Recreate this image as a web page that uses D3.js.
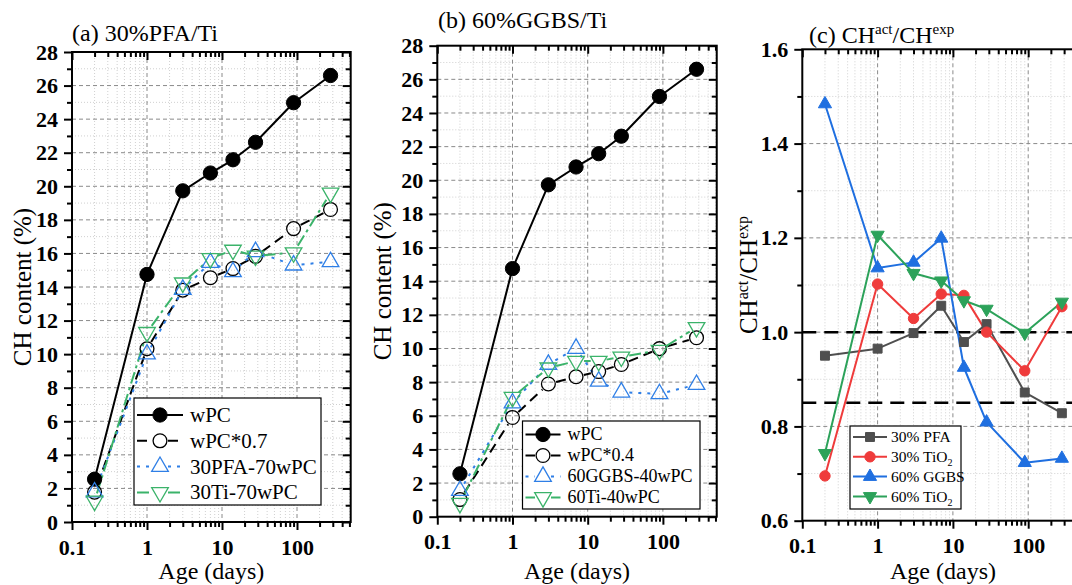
<!DOCTYPE html>
<html><head><meta charset="utf-8">
<script src="https://cdn.jsdelivr.net/npm/d3@7"></script>
<style>body{margin:0;background:#fff}svg{display:block}text{font-family:"Liberation Serif","Times New Roman",serif}</style>
</head><body>
<svg id="c" width="1072" height="585"></svg>
<script>
// ---- data ----
const ages = [0.2, 1, 3, 7, 14, 28, 90, 280];
const wPC = [2.55, 14.75, 19.73, 20.79, 21.58, 22.62, 24.98, 26.6];
const wPC07 = [1.78, 10.32, 13.81, 14.55, 15.1, 15.83, 17.48, 18.62];
const pfa30 = [1.78, 10.0, 13.85, 15.45, 14.9, 16.1, 15.3, 15.5];
const ti30 = [1.25, 11.3, 14.25, 15.7, 16.2, 15.85, 16.05, 19.6];
const wPC04 = [1.02, 5.9, 7.89, 8.32, 8.63, 9.05, 9.99, 10.64];
const ggbs60 = [1.55, 6.75, 9.05, 10.0, 8.05, 7.4, 7.3, 7.85];
const ti60 = [0.8, 7.1, 8.85, 9.25, 9.25, 9.5, 9.9, 11.25];
const ratioPFA30 = [0.95, 0.965, 0.998, 1.056, 0.979, 1.017, 0.872, 0.828];
const ratioTi30 = [0.695, 1.102, 1.029, 1.081, 1.078, 1.0, 0.918, 1.054];
const ratioGGBS60 = [1.484, 1.136, 1.148, 1.199, 0.925, 0.809, 0.723, 0.732];
const ratioTi60 = [0.743, 1.206, 1.125, 1.109, 1.067, 1.049, 0.998, 1.064];
const refLines = [1.0, 0.85];
const xTickLabels = [0.1, 1, 10, 100];
const yTicksCH = d3.range(0, 29, 2);
const yTicksRatio = [0.6, 0.8, 1.0, 1.2, 1.4, 1.6];

const svg = d3.select("#c");
const XMAX = 520;

function drawPanel(cfg) {
  const g = svg.append("g");
  const x = d3.scaleLog().domain([0.1, XMAX]).range([cfg.left, cfg.left + cfg.decade * Math.log10(XMAX / 0.1)]);
  const y = d3.scaleLinear().domain(cfg.ydom).range([cfg.bottom, cfg.top]);
  const [x0, x1] = x.range();
  const minorX = [];
  [0.1, 1, 10, 100].forEach(d => { for (let k = 2; k <= 9; k++) if (k * d < XMAX) minorX.push(k * d); });
  const minorY = cfg.yminor;
  // minor grid
  g.selectAll(null).data(minorX).join("line")
    .attr("x1", d => x(d)).attr("x2", d => x(d)).attr("y1", cfg.top).attr("y2", cfg.bottom)
    .attr("stroke", "#d0d0d0").attr("stroke-width", 1).attr("stroke-dasharray", "1,2");
  g.selectAll(null).data(minorY).join("line")
    .attr("x1", x0).attr("x2", x1).attr("y1", d => y(d)).attr("y2", d => y(d))
    .attr("stroke", "#d0d0d0").attr("stroke-width", 1).attr("stroke-dasharray", "1,2");
  // major grid
  g.selectAll(null).data([1, 10, 100]).join("line")
    .attr("x1", d => x(d)).attr("x2", d => x(d)).attr("y1", cfg.top).attr("y2", cfg.bottom)
    .attr("stroke", "#8a8a8a").attr("stroke-width", 1).attr("stroke-dasharray", "4,3");
  g.selectAll(null).data(cfg.yticks.slice(1, -1)).join("line")
    .attr("x1", x0).attr("x2", x1).attr("y1", d => y(d)).attr("y2", d => y(d))
    .attr("stroke", "#8a8a8a").attr("stroke-width", 1).attr("stroke-dasharray", "4,3");

  // axes
  const bottomAx = d3.axisBottom(x).tickValues(xTickLabels).tickFormat(d => d).tickSize(8).tickSizeOuter(0);
  const bottomMinor = d3.axisBottom(x).tickValues(minorX).tickFormat("").tickSize(5).tickSizeOuter(0);
  const topAx = d3.axisBottom(x).tickValues(xTickLabels).tickFormat("").tickSize(8).tickSizeOuter(0);
  const topMinor = d3.axisBottom(x).tickValues(minorX).tickFormat("").tickSize(5).tickSizeOuter(0);
  const leftAx = d3.axisLeft(y).tickValues(cfg.yticks).tickFormat(cfg.fmt).tickSize(8).tickPadding(6).tickSizeOuter(0);
  const leftMinor = d3.axisLeft(y).tickValues(minorY).tickFormat("").tickSize(5).tickSizeOuter(0);
  const rightAx = d3.axisLeft(y).tickValues(cfg.yticks).tickFormat("").tickSize(8).tickSizeOuter(0);
  const rightMinor = d3.axisLeft(y).tickValues(minorY).tickFormat("").tickSize(5).tickSizeOuter(0);
  const style = sel => { sel.selectAll(".domain").remove(); sel.selectAll(".tick line").attr("stroke", "#000").attr("stroke-width", 2); };
  g.append("g").attr("transform", `translate(0,${cfg.bottom})`).call(bottomMinor).call(style);
  const bx = g.append("g").attr("transform", `translate(0,${cfg.bottom})`).call(bottomAx).call(style);
  bx.selectAll("text").attr("font-size", 22).attr("font-weight", "bold").attr("fill", "#000").attr("dy", "0.98em");
  g.append("g").attr("transform", `translate(0,${cfg.top})`).call(topMinor).call(style);
  g.append("g").attr("transform", `translate(0,${cfg.top})`).call(topAx).call(style);
  g.append("g").attr("transform", `translate(${x0},0)`).call(leftMinor).call(style);
  const ly = g.append("g").attr("transform", `translate(${x0},0)`).call(leftAx).call(style);
  ly.selectAll("text").attr("font-size", 22).attr("font-weight", "bold").attr("fill", "#000");
  g.append("g").attr("transform", `translate(${x1},0)`).call(rightMinor).call(style);
  g.append("g").attr("transform", `translate(${x1},0)`).call(rightAx).call(style);
  g.append("rect").attr("x", x0).attr("y", cfg.top).attr("width", x1 - x0).attr("height", cfg.bottom - cfg.top)
    .attr("fill", "none").attr("stroke", "#000").attr("stroke-width", 2);

  // reference lines
  (cfg.refs || []).forEach(v => {
    g.append("line").attr("x1", x0).attr("x2", x1).attr("y1", y(v)).attr("y2", y(v))
      .attr("stroke", "#000").attr("stroke-width", 2.5).attr("stroke-dasharray", "14,8");
  });

  // series
  cfg.series.forEach(s => {
    const pts = ages.map((a, i) => [x(a), y(s.values[i])]);
    let d = "";
    const gap = s.open ? s.r + 1 : 0;
    for (let i = 0; i < pts.length - 1; i++) {
      const [ax, ay] = pts[i], [bx2, by] = pts[i + 1];
      const L = Math.hypot(bx2 - ax, by - ay);
      if (L <= 2 * gap) continue;
      const ux = (bx2 - ax) / L, uy = (by - ay) / L;
      d += `M${ax + ux * gap},${ay + uy * gap}L${bx2 - ux * gap},${by - uy * gap}`;
    }
    g.append("path").attr("d", d).attr("fill", "none").attr("stroke", s.color)
      .attr("stroke-width", s.lw || 2).attr("stroke-dasharray", s.dash || null);
  });
  cfg.series.forEach(s => {
    const sym = d3.symbol().type(s.shape).size(s.size);
    g.selectAll(null).data(ages.map((a, i) => [x(a), y(s.values[i])])).join("path")
      .attr("d", sym)
      .attr("transform", d => `translate(${d[0]},${d[1]})` + (s.down ? " rotate(180)" : ""))
      .attr("fill", s.open ? "none" : s.color).attr("stroke", s.color).attr("stroke-width", s.open ? 1.3 : 1);
  });

  // title
  const t = svg.append("text").attr("x", cfg.titleX).attr("y", cfg.titleY).attr("font-size", 24).attr("fill", "#000");
  cfg.title.forEach(p => t.append("tspan").attr("font-size", p.sup ? 15 : 24).attr("dy", p.dy || 0).text(p.t));
  // y label
  const yl = svg.append("text").attr("transform", `translate(${cfg.ylabelX},${cfg.ylabelY || (cfg.top + cfg.bottom) / 2}) rotate(-90)`)
    .attr("text-anchor", "middle").attr("font-size", 25).attr("fill", "#000");
  cfg.ylabel.forEach(p => yl.append("tspan").attr("font-size", p.sup ? 16 : 25).attr("dy", p.dy || 0).text(p.t));
  // x label
  svg.append("text").attr("x", cfg.xlabelX || (x0 + x1) / 2).attr("y", 579).attr("text-anchor", "middle")
    .attr("font-size", 24).attr("fill", "#000").text("Age (days)");

  // legend
  const L = cfg.legend;
  g.append("rect").attr("x", L.x).attr("y", L.y).attr("width", L.w).attr("height", L.h)
    .attr("fill", "#fff").attr("stroke", "#000").attr("stroke-width", 1.2);
  cfg.series.forEach((s, i) => {
    const ry = L.y + L.first + i * L.step;
    const lx0 = L.x + 3, lx1 = L.x + L.sample;
    const mx = (lx0 + lx1) / 2, gap = s.open ? s.r + 1 : 0;
    g.append("path").attr("d", `M${lx0},${ry}L${mx - gap},${ry}M${mx + gap},${ry}L${lx1},${ry}`)
      .attr("stroke", s.color).attr("stroke-width", s.lw || 2).attr("stroke-dasharray", s.dash || null);
    g.append("path").attr("d", d3.symbol().type(s.shape).size(s.size))
      .attr("transform", `translate(${mx},${ry})` + (s.down ? " rotate(180)" : ""))
      .attr("fill", s.open ? "#fff" : s.color).attr("stroke", s.color).attr("stroke-width", s.open ? 1.3 : 1);
    const tx = g.append("text").attr("x", L.x + L.sample + L.tpad).attr("y", ry + L.fs * 0.33)
      .attr("font-size", L.fs).attr("fill", "#000");
    s.label.forEach(p => tx.append("tspan").attr("font-size", p.sub ? L.fs * 0.65 : L.fs).attr("dy", p.dy || 0).text(p.t));
  });
}

const blk = "#000", blu = "#2f7fe6", grn = "#3bb36a";
drawPanel({
  left: 72, top: 52, bottom: 522, decade: 75, ydom: [0, 28], yticks: yTicksCH,
  yminor: d3.range(1, 28, 2), fmt: d3.format("d"),
  title: [{t: "(a) 30%PFA/Ti"}], titleX: 72, titleY: 41,
  ylabel: [{t: "CH content (%)"}], ylabelX: 31,
  series: [
    {values: wPC, color: blk, shape: d3.symbolCircle, size: 160, r: 7, label: [{t: "wPC"}]},
    {values: wPC07, color: blk, shape: d3.symbolCircle, size: 150, r: 7, open: true, dash: "10,6", label: [{t: "wPC*0.7"}]},
    {values: pfa30, color: blu, shape: d3.symbolTriangle, size: 120, r: 7, open: true, dash: "3,6", label: [{t: "30PFA-70wPC"}]},
    {values: ti30, color: grn, shape: d3.symbolTriangle, size: 120, r: 7, open: true, down: true, dash: "12,4,3,4", label: [{t: "30Ti-70wPC"}]}
  ],
  legend: {x: 134, y: 398, w: 187, h: 107, first: 17, step: 25.8, sample: 49, tpad: 7, fs: 21}
});
drawPanel({
  left: 437.3, top: 45.7, bottom: 516.7, decade: 75.2, ydom: [0, 28], yticks: yTicksCH,
  yminor: d3.range(1, 28, 2), fmt: d3.format("d"),
  title: [{t: "(b) 60%GGBS/Ti"}], titleX: 438, titleY: 28,
  ylabel: [{t: "CH content (%)"}], ylabelX: 391,
  series: [
    {values: wPC, color: blk, shape: d3.symbolCircle, size: 160, r: 7, label: [{t: "wPC"}]},
    {values: wPC04, color: blk, shape: d3.symbolCircle, size: 150, r: 7, open: true, dash: "10,6", label: [{t: "wPC*0.4"}]},
    {values: ggbs60, color: blu, shape: d3.symbolTriangle, size: 120, r: 7, open: true, dash: "3,6", label: [{t: "60GGBS-40wPC"}]},
    {values: ti60, color: grn, shape: d3.symbolTriangle, size: 120, r: 7, open: true, down: true, dash: "12,4,3,4", label: [{t: "60Ti-40wPC"}]}
  ],
  legend: {x: 522.5, y: 421, w: 177.5, h: 88, first: 13.5, step: 21, sample: 38, tpad: 7, fs: 18}
});
drawPanel({
  left: 802.3, top: 49.3, bottom: 520.7, decade: 75.3, ydom: [0.6, 1.6], yticks: yTicksRatio,
  yminor: [0.7, 0.9, 1.1, 1.3, 1.5], fmt: d3.format(".1f"),
  title: [{t: "(c) CH"}, {t: "act", sup: true, dy: -9}, {t: "/CH", dy: 9}, {t: "exp", sup: true, dy: -9}], titleX: 809, titleY: 43,
  ylabel: [{t: "CH"}, {t: "act", sup: true, dy: -9}, {t: "/CH", dy: 9}, {t: "exp", sup: true, dy: -9}], ylabelX: 757, ylabelY: 275,
  refs: refLines,
  series: [
    {values: ratioPFA30, color: "#4f4f4f", shape: d3.symbolSquare, size: 80, r: 4, label: [{t: "30% PFA"}]},
    {values: ratioTi30, color: "#ef3b3b", shape: d3.symbolCircle, size: 85, r: 5, label: [{t: "30% TiO"}, {t: "2", sub: true, dy: 4}]},
    {values: ratioGGBS60, color: "#1f6fe0", shape: d3.symbolTriangle, size: 75, r: 5, label: [{t: "60% GGBS"}]},
    {values: ratioTi60, color: "#2ca25a", shape: d3.symbolTriangle, size: 75, r: 5, down: true, label: [{t: "60% TiO"}, {t: "2", sub: true, dy: 4}]}
  ],
  legend: {x: 850, y: 426, w: 111, h: 83, first: 11, step: 19.8, sample: 37, tpad: 4, fs: 15.5},
  xlabelX: 943
});
</script>
</body></html>
